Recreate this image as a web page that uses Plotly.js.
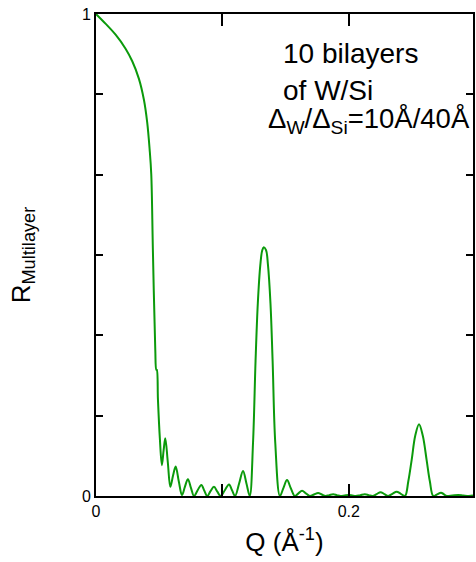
<!DOCTYPE html>
<html>
<head>
<meta charset="utf-8">
<script src="https://cdn.plot.ly/plotly-3.0.1.min.js"></script>
<style>html,body{margin:0;padding:0;background:#fff;}#chart{width:476px;height:562px;}</style>
</head>
<body>
<div id="chart"></div>
<script>
// Q (Å^-1) values
const qValues = [
  0, 0.0075, 0.0155, 0.0234, 0.0287, 0.0339, 0.0379, 0.0405, 0.0424, 0.0437,
  0.0450, 0.0469, 0.0477, 0.0481, 0.0490, 0.0505, 0.0521, 0.0535, 0.0548, 0.0568,
  0.0588, 0.0609, 0.0630, 0.0655, 0.0680, 0.0703, 0.0727, 0.0751, 0.0775, 0.0804,
  0.0833, 0.0857, 0.0880, 0.0906, 0.0933, 0.0960, 0.0986, 0.1019, 0.1052, 0.1076,
  0.1100, 0.1132, 0.1163, 0.1190, 0.1216, 0.1242, 0.1262, 0.1280, 0.1300, 0.1315,
  0.1327, 0.1345, 0.1360, 0.1380, 0.1397, 0.1418, 0.1455, 0.1483, 0.1511, 0.1541,
  0.1572, 0.1601, 0.1630, 0.1660, 0.1691, 0.1724, 0.1757, 0.1786, 0.1815, 0.1845,
  0.1876, 0.1905, 0.1934, 0.1967, 0.2000, 0.2027, 0.2055, 0.2091, 0.2127, 0.2157,
  0.2188, 0.2220, 0.2251, 0.2281, 0.2311, 0.2345, 0.2378, 0.2411, 0.2444, 0.2470,
  0.2497, 0.2525, 0.2555, 0.2585, 0.2615, 0.2641, 0.2668, 0.2699, 0.2729, 0.2752,
  0.2774, 0.2820, 0.2866, 0.2905, 0.2950, 0.2982
];
// R_Multilayer values
const rValues = [
  1.000, 0.980, 0.957, 0.928, 0.902, 0.866, 0.822, 0.775, 0.720, 0.668,
  0.510, 0.303, 0.262, 0.262, 0.200, 0.120, 0.064, 0.095, 0.120, 0.070,
  0.019, 0.042, 0.061, 0.030, 0.002, 0.019, 0.035, 0.017, 0.000, 0.012,
  0.023, 0.011, 0.000, 0.010, 0.019, 0.009, 0.000, 0.012, 0.024, 0.012,
  0.000, 0.026, 0.052, 0.026, 0.000, 0.110, 0.280, 0.400, 0.480, 0.510,
  0.516, 0.510, 0.480, 0.400, 0.280, 0.110, 0.000, 0.017, 0.033, 0.016,
  0.000, 0.0055, 0.011, 0.0055, 0.000, 0.003, 0.006, 0.003, 0.000, 0.0018,
  0.0035, 0.0018, 0.000, 0.001, 0.002, 0.001, 0.000, 0.0018, 0.0035, 0.0018,
  0.000, 0.004, 0.008, 0.004, 0.000, 0.0045, 0.009, 0.0045, 0.000, 0.030,
  0.075, 0.125, 0.149, 0.125, 0.075, 0.030, 0.000, 0.0035, 0.007, 0.0035,
  0.000, 0.001, 0.002, 0.001, 0.000, 0.001
];
// labelled ticks and unlabelled (minor) ticks
const xTickVals = [0, 0.2];
const xTickText = ['0', '0.2'];
const xMinorVals = [0.1];
const yTickVals = [0, 1];
const yTickText = ['0', '1'];
const yMinorVals = [1/6, 2/6, 3/6, 4/6, 5/6];
const labelLines = ['10 bilayers', 'of W/Si', 'Δ<sub>W</sub>/Δ<sub>Si</sub>=10Å/40Å'];

const font = 'Liberation Sans, Arial, Helvetica, sans-serif';

const trace = {
  x: qValues, y: rValues, type: 'scatter', mode: 'lines',
  line: {color: '#0b9a0b', width: 2, shape: 'spline', smoothing: 1.0},
  hoverinfo: 'skip', cliponaxis: true
};

const layout = {
  width: 476, height: 562,
  margin: {l: 96, r: 3, t: 14, b: 66, pad: 0},
  paper_bgcolor: '#fff', plot_bgcolor: '#fff',
  showlegend: false,
  font: {family: font, color: '#000'},
  xaxis: {
    range: [0, 0.2982], showgrid: false, zeroline: false,
    showline: true, linecolor: '#000', linewidth: 2, mirror: 'ticks',
    ticks: 'inside', ticklen: 12, tickwidth: 2, tickcolor: '#000',
    tickvals: xTickVals, ticktext: xTickText,
    minor: {tickvals: xMinorVals, ticks: 'inside', ticklen: 12, tickwidth: 2, tickcolor: '#000', showgrid: false},
    tickfont: {size: 16, family: font},
    title: {text: 'Q (Å<sup>-1</sup>)', font: {size: 26, family: font}, standoff: 14}
  },
  yaxis: {
    range: [0, 1], showgrid: false, zeroline: false,
    showline: true, linecolor: '#000', linewidth: 2, mirror: 'ticks',
    ticks: 'inside', ticklen: 7, tickwidth: 2, tickcolor: '#000',
    tickvals: yTickVals, ticktext: yTickText,
    minor: {tickvals: yMinorVals, ticks: 'inside', ticklen: 7, tickwidth: 2, tickcolor: '#000', showgrid: false},
    tickfont: {size: 16, family: font},
    title: {text: 'R<sub>Multilayer</sub>', font: {size: 26, family: font}, standoff: 44}
  },
  annotations: [
    {xref: 'paper', yref: 'paper', x: 0.49, y: 0.919, xanchor: 'left', yanchor: 'middle',
     text: labelLines[0], showarrow: false, font: {size: 28, family: font}},
    {xref: 'paper', yref: 'paper', x: 0.49, y: 0.842, xanchor: 'left', yanchor: 'middle',
     text: labelLines[1], showarrow: false, font: {size: 28, family: font}},
    {xref: 'paper', yref: 'paper', x: 0.45, y: 0.78, xanchor: 'left', yanchor: 'middle',
     text: labelLines[2], showarrow: false, font: {size: 27.5, family: font}}
  ]
};

Plotly.newPlot('chart', [trace], layout, {displayModeBar: false, staticPlot: true});
</script>
</body>
</html>
